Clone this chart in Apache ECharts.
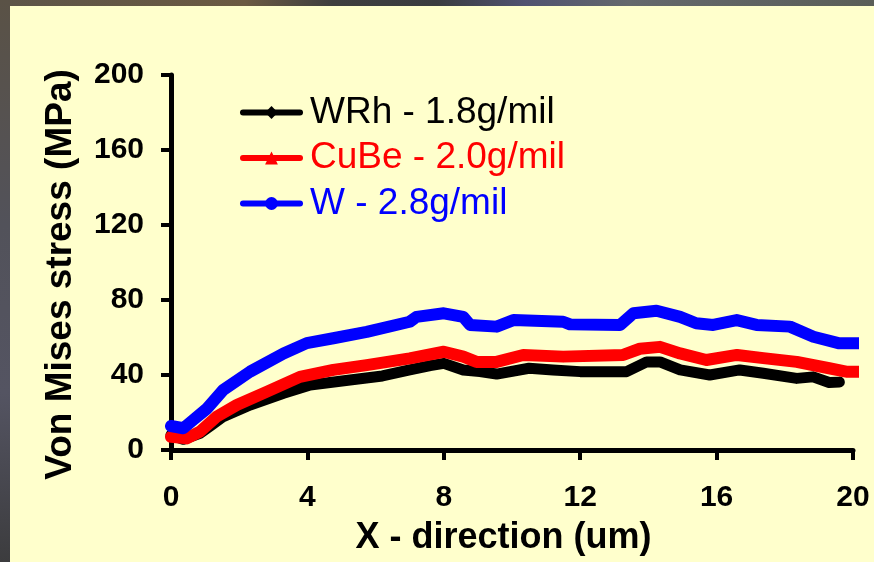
<!DOCTYPE html>
<html>
<head>
<meta charset="utf-8">
<script src="https://cdn.jsdelivr.net/npm/echarts@6/dist/echarts.min.js"></script>
<style>
html,body{margin:0;padding:0;}
body{width:874px;height:562px;overflow:hidden;}
#chart{width:874px;height:562px;}
</style>
</head>
<body>
<div id="chart"></div>
<script>
// Series names
const seriesNames = ["WRh - 1.8g/mil", "CuBe - 2.0g/mil", "W - 2.8g/mil"];
// Axis ticks
const xTicks = [0, 4, 8, 12, 16, 20];
const yTicks = [0, 40, 80, 120, 160, 200];
// Data: [x (um), stress (MPa)]
const wrhData = [[0,8],[0.36,5.7],[0.85,8.9],[1.2,13.5],[1.53,17.8],[2.32,24],[3.3,30.2],[4.08,34.7],[5.25,37.3],[6.2,39.5],[7.0,42.7],[7.6,45],[8.0,46.2],[8.57,42.7],[9.06,41.8],[9.55,40.5],[10.5,43.6],[11.2,42.7],[12,41.8],[13.36,41.8],[13.95,47],[14.34,47],[14.93,42.7],[15.8,40],[16.68,42.7],[17.37,40.9],[18.35,38.2],[18.83,39],[19.3,36],[19.6,36.2]];
const cubeData = [[0,7],[0.46,6.2],[0.85,9.8],[1.34,17.8],[1.93,24],[2.8,31],[3.78,39],[4.76,42.7],[5.74,45.3],[7.0,48.9],[8.0,52.4],[8.57,49.8],[8.96,47],[9.55,47],[10.33,50.7],[11.5,49.8],[13.26,50.7],[13.75,54],[14.34,55],[14.93,51.5],[15.7,48],[16.6,50.7],[17.37,49],[18.35,47],[19.3,43.6],[19.8,41.8],[20.25,41.8]];
const wData = [[0,12.8],[0.36,11.6],[0.65,16],[1.05,22],[1.53,32],[2.32,41.8],[3.3,51.5],[3.98,57],[4.76,59.6],[5.74,63],[7.0,68.4],[7.2,71],[8.0,72.9],[8.57,71],[8.77,66.7],[9.55,65.8],[10.04,69.3],[11.5,68.4],[11.7,67],[13.17,66.7],[13.56,72.9],[14.24,74.3],[14.93,71],[15.4,67.6],[15.9,66.7],[16.59,69.3],[17.17,66.7],[18.15,65.8],[18.84,60.4],[19.6,56.9],[20.25,56.9]];
const seriesColors = ["#000000", "#ff0000", "#0000ff"];
const seriesSymbols = ["diamond", "triangle", "circle"];
const seriesWidths = [11, 12, 12];
const allData = [wrhData, cubeData, wData];

const font = "'Liberation Sans', Arial, sans-serif";
const chart = echarts.init(document.getElementById('chart'));
chart.setOption({
  animation: false,
  graphic: [
    {type:'rect', z:-100, silent:true, shape:{x:0,y:0,width:874,height:562},
     style:{fill:new echarts.graphic.LinearGradient(0,0,1,0,[
       {offset:0,color:'#5c5448'},{offset:0.28,color:'#6b5a42'},{offset:0.38,color:'#3e3e3e'},
       {offset:0.5,color:'#3a3c40'},{offset:0.6,color:'#505270'},{offset:0.72,color:'#64686c'},{offset:1,color:'#5a5e58'}])}},
    {type:'rect', z:-99, silent:true, shape:{x:0,y:0,width:10,height:562},
     style:{fill:new echarts.graphic.LinearGradient(0,0,0,1,[
       {offset:0,color:'#5a5246'},{offset:0.4,color:'#52525a'},{offset:0.7,color:'#545462'},{offset:1,color:'#3c3c3e'}])}},
    {type:'rect', z:-98, silent:true, shape:{x:10,y:6,width:864,height:556}, style:{fill:'#ffffcc'}}
  ],
  grid: {left:171, right:21, top:75, bottom:112},
  legend: {
    orient:'vertical', left:240, top:94, padding:0,
    itemWidth:57, itemHeight:16, itemGap:8.5,
    lineStyle:{width:6, cap:'round'},
    textStyle:{fontFamily:font, fontSize:37, lineHeight:37, padding:[0,0,0,5]},
    data: seriesNames.map((n,i)=>({name:n, textStyle:{color:seriesColors[i]}}))
  },
  xAxis: {
    type:'value', min:0, max:20, interval:4,
    axisLine:{lineStyle:{color:'#000', width:5}},
    axisTick:{length:10, lineStyle:{color:'#000', width:4}},
    splitLine:{show:false},
    axisLabel:{color:'#000', fontFamily:font, fontWeight:'bold', fontSize:30, margin:33,
      formatter:(v)=> xTicks.includes(v) ? String(v) : ''},
    name:'X - direction (um)', nameLocation:'middle', nameGap:70,
    nameTextStyle:{color:'#000', fontFamily:font, fontWeight:'bold', fontSize:36, padding:[0,17,0,0]}
  },
  yAxis: {
    type:'value', min:0, max:200, interval:40,
    axisLine:{show:true, lineStyle:{color:'#000', width:5}},
    axisTick:{show:true, length:10, lineStyle:{color:'#000', width:4}},
    splitLine:{show:false},
    axisLabel:{color:'#000', fontFamily:font, fontWeight:'bold', fontSize:30, margin:27, padding:[6,0,0,0],
      formatter:(v)=> yTicks.includes(v) ? String(v) : ''},
    name:'Von Mises stress (MPa)', nameLocation:'middle', nameGap:92, nameRotate:90,
    nameTextStyle:{color:'#000', fontFamily:font, fontWeight:'bold', fontSize:37, padding:[0,24,0,0]}
  },
  series: seriesNames.map((n,i)=>({
    name:n, type:'line', data:allData[i],
    symbol:seriesSymbols[i], symbolSize:12, showSymbol:false,
    clip:false, smooth:false,
    itemStyle:{color:seriesColors[i]},
    lineStyle:{color:seriesColors[i], width:seriesWidths[i], join:'round', cap:'round'}
  }))
});
</script>
</body>
</html>
